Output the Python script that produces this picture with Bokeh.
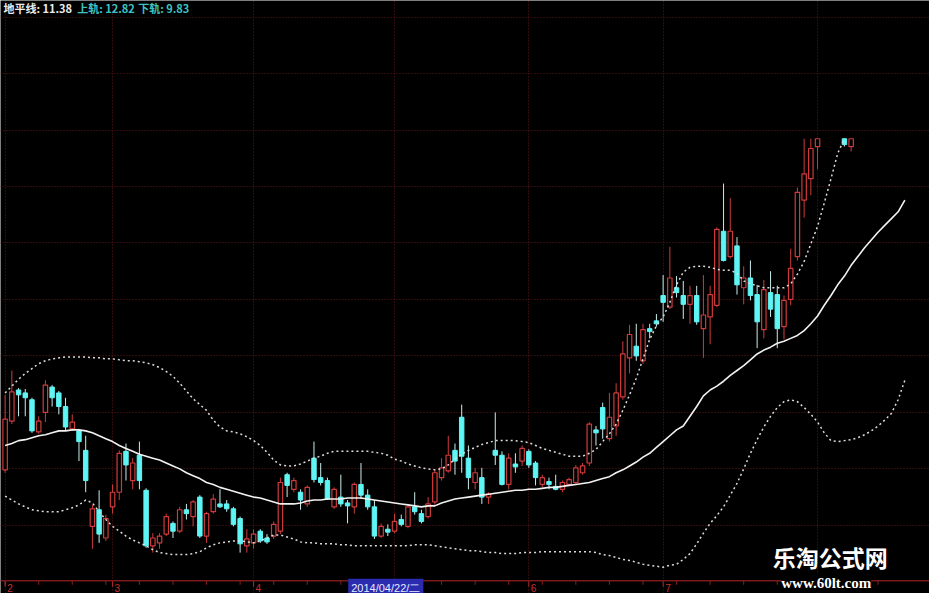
import numpy as np
from bokeh.plotting import figure
from bokeh.models import Range1d, FixedTicker, Label, ColumnDataSource, Span
from bokeh.embed import file_html
from bokeh.resources import INLINE
from bokeh.core.properties import value

# ---------------- data (bar index 0 = 2014-02-07) ----------------
opens = [
    8.61, 9.11, 9.43, 9.40, 9.33, 9.00, 9.20, 9.46, 9.40, 9.26,
    9.03, 9.01, 8.81, 8.03, 8.20, 7.91, 8.23, 8.38, 8.80, 8.50,
    8.76, 8.40, 7.83, 7.86, 7.95, 8.06, 7.98, 8.20, 8.13, 8.33,
    7.93, 8.18, 8.26, 8.26, 8.21, 8.11, 7.83, 7.86, 7.98, 7.91,
    7.93, 7.98, 8.56, 8.41, 8.38, 8.26, 8.73, 8.53, 8.50, 8.23,
    8.33, 8.27, 8.23, 8.46, 8.35, 8.23, 7.93, 8.00, 7.98, 8.10,
    8.03, 8.23, 8.16, 8.13, 8.28, 8.53, 8.60, 8.81, 9.15, 8.73,
    8.48, 8.53, 8.33, 8.81, 8.76, 8.46, 8.67, 8.70, 8.80, 8.68,
    8.46, 8.49, 8.44, 8.41, 8.46, 8.48, 8.58, 8.68, 9.02, 9.25,
    8.93, 9.06, 9.36, 9.76, 9.88, 9.73, 10.06, 10.14, 10.40, 10.28,
    10.48, 10.40, 10.31, 10.40, 10.06, 10.18, 10.30, 11.06, 10.80, 10.91,
    10.48, 10.58, 10.41, 10.05, 10.43, 10.41, 10.08, 10.36, 10.80, 11.38,
    11.60, 11.93, None, None, None, 12.15, 11.93, None, None, None,
    None, None, None, None, None,
]
highs = [
    9.38, 9.63, 9.45, 9.44, 9.35, 9.16, 9.53, 9.48, 9.42, 9.35,
    9.18, 9.03, 8.96, 8.25, 8.40, 8.15, 8.46, 8.81, 8.88, 8.73,
    8.90, 8.42, 7.96, 7.96, 8.16, 8.08, 8.23, 8.26, 8.30, 8.35,
    8.18, 8.36, 8.41, 8.30, 8.23, 8.13, 8.00, 8.00, 8.00, 7.95,
    8.08, 8.53, 8.58, 8.53, 8.41, 8.45, 8.90, 8.68, 8.53, 8.43,
    8.56, 8.30, 8.48, 8.68, 8.41, 8.30, 8.06, 8.05, 8.16, 8.15,
    8.25, 8.38, 8.20, 8.33, 8.61, 8.73, 8.96, 8.88, 9.28, 8.86,
    8.63, 8.63, 8.38, 9.20, 8.80, 8.78, 8.78, 8.86, 8.82, 8.70,
    8.56, 8.53, 8.56, 8.50, 8.53, 8.66, 8.68, 9.10, 9.06, 9.30,
    9.40, 9.50, 9.93, 10.10, 10.11, 10.11, 10.11, 10.21, 10.61, 10.90,
    10.60, 10.55, 10.50, 10.50, 10.61, 10.50, 11.10, 11.55, 11.40, 11.00,
    10.70, 10.76, 10.51, 10.56, 10.65, 10.50, 10.40, 10.88, 11.51, 12.23,
    12.25, 12.30, None, None, None, 12.25, 12.20, None, None, None,
    None, None, None, None, None,
]
lows = [
    8.58, 9.08, 9.16, 9.16, 8.99, 8.98, 9.10, 9.26, 9.18, 9.01,
    9.01, 8.70, 8.38, 7.80, 7.86, 7.88, 8.16, 8.30, 8.50, 8.41,
    8.41, 7.81, 7.76, 7.80, 7.93, 7.91, 7.96, 8.10, 8.03, 7.91,
    7.86, 8.16, 8.22, 8.18, 8.03, 7.76, 7.76, 7.80, 7.86, 7.85,
    7.90, 7.95, 8.33, 8.38, 8.20, 8.23, 8.48, 8.45, 8.30, 8.21,
    8.23, 8.06, 8.16, 8.31, 8.20, 7.90, 7.91, 7.93, 7.96, 8.03,
    8.01, 8.15, 8.06, 8.11, 8.25, 8.50, 8.58, 8.56, 8.58, 8.41,
    8.41, 8.26, 8.26, 8.66, 8.45, 8.41, 8.58, 8.65, 8.63, 8.45,
    8.43, 8.41, 8.40, 8.38, 8.45, 8.46, 8.56, 8.65, 8.86, 8.93,
    8.90, 8.96, 9.33, 9.60, 9.73, 9.70, 9.96, 10.08, 10.13, 10.26,
    10.38, 10.16, 10.11, 10.10, 9.76, 9.90, 10.28, 10.75, 10.78, 10.41,
    10.31, 10.35, 9.86, 9.96, 10.18, 9.86, 9.95, 10.30, 10.76, 11.20,
    11.43, 11.70, None, None, None, 11.93, 11.88, None, None, None,
    None, None, None, None, None,
]
closes = [
    9.13, 9.41, 9.38, 9.35, 9.01, 9.11, 9.48, 9.35, 9.26, 9.05,
    9.10, 8.90, 8.50, 8.21, 7.95, 8.11, 8.38, 8.78, 8.66, 8.68,
    8.50, 7.83, 7.91, 7.93, 8.13, 7.98, 8.20, 8.16, 8.28, 7.93,
    8.16, 8.31, 8.23, 8.21, 8.05, 7.85, 7.90, 7.95, 7.88, 7.87,
    8.05, 8.48, 8.45, 8.50, 8.30, 8.43, 8.51, 8.48, 8.31, 8.41,
    8.26, 8.25, 8.46, 8.35, 8.23, 7.93, 8.03, 7.97, 8.08, 8.05,
    8.23, 8.18, 8.08, 8.26, 8.58, 8.63, 8.76, 8.70, 8.75, 8.53,
    8.58, 8.33, 8.36, 8.76, 8.46, 8.73, 8.65, 8.83, 8.66, 8.53,
    8.53, 8.47, 8.42, 8.48, 8.51, 8.63, 8.65, 9.08, 9.00, 9.03,
    9.15, 9.40, 9.80, 10.00, 9.78, 10.05, 10.04, 10.11, 10.33, 10.58,
    10.43, 10.31, 10.40, 10.13, 10.20, 10.41, 11.08, 10.76, 11.06, 10.51,
    10.58, 10.40, 10.13, 10.46, 10.26, 10.06, 10.35, 10.68, 11.46, 11.65,
    11.91, 12.15, None, None, None, 11.95, 12.08, None, None, None,
    None, None, None, None, None,
]
upper_band = [
    9.40, 9.47, 9.54, 9.60, 9.65, 9.70, 9.73, 9.75, 9.76, 9.77,
    9.77, 9.77, 9.77, 9.76, 9.76, 9.75, 9.75, 9.74, 9.73, 9.73,
    9.72, 9.71, 9.69, 9.66, 9.62, 9.57, 9.50, 9.42, 9.34, 9.28,
    9.22, 9.12, 9.05, 9.01, 9.00, 8.98, 8.95, 8.91, 8.86, 8.79,
    8.71, 8.66, 8.65, 8.65, 8.67, 8.70, 8.73, 8.75, 8.78, 8.80,
    8.80, 8.80, 8.80, 8.80, 8.80, 8.79, 8.78, 8.76, 8.72, 8.70,
    8.67, 8.65, 8.63, 8.62, 8.61, 8.62, 8.66, 8.72, 8.77, 8.81,
    8.84, 8.87, 8.89, 8.91, 8.91, 8.91, 8.91, 8.90, 8.89, 8.86,
    8.83, 8.81, 8.79, 8.77, 8.75, 8.75, 8.75, 8.78, 8.82, 8.90,
    8.98, 9.08, 9.22, 9.38, 9.55, 9.75, 9.95, 10.09, 10.18, 10.33,
    10.51, 10.64, 10.69, 10.70, 10.70, 10.69, 10.67, 10.66, 10.66, 10.63,
    10.55, 10.52, 10.50, 10.48, 10.48, 10.48, 10.48, 10.52, 10.62, 10.75,
    10.93, 11.11, 11.35, 11.60, 11.86, 12.01, None, None, None, None,
    None, None, None, None, None,
]
mid_band = [
    8.86, 8.88, 8.91, 8.92, 8.94, 8.96, 8.97, 8.99, 9.01, 9.01,
    9.02, 9.02, 9.01, 8.99, 8.96, 8.93, 8.90, 8.86, 8.83, 8.80,
    8.77, 8.75, 8.73, 8.71, 8.68, 8.65, 8.62, 8.58, 8.55, 8.52,
    8.48, 8.46, 8.43, 8.41, 8.39, 8.37, 8.35, 8.33, 8.32, 8.30,
    8.28, 8.26, 8.26, 8.26, 8.27, 8.29, 8.30, 8.30, 8.31, 8.31,
    8.31, 8.32, 8.32, 8.32, 8.31, 8.30, 8.29, 8.28, 8.27, 8.26,
    8.25, 8.24, 8.23, 8.24, 8.24, 8.27, 8.29, 8.31, 8.32, 8.33,
    8.34, 8.35, 8.36, 8.37, 8.38, 8.39, 8.40, 8.40, 8.41, 8.41,
    8.42, 8.43, 8.43, 8.44, 8.45, 8.46, 8.47, 8.48, 8.50, 8.52,
    8.54, 8.58, 8.61, 8.65, 8.69, 8.74, 8.78, 8.84, 8.90, 8.96,
    9.02, 9.06, 9.16, 9.26, 9.37, 9.43, 9.47, 9.52, 9.58, 9.63,
    9.68, 9.74, 9.80, 9.84, 9.87, 9.91, 9.93, 9.96, 9.99, 10.04,
    10.11, 10.19, 10.30, 10.40, 10.51, 10.60, 10.71, 10.80, 10.89, 10.97,
    11.05, 11.12, 11.19, 11.26, 11.38,
]
lower_band = [
    8.34, 8.30, 8.26, 8.23, 8.20, 8.19, 8.18, 8.18, 8.18, 8.20,
    8.22, 8.25, 8.30, 8.27, 8.18, 8.10, 8.03, 7.98, 7.93, 7.89,
    7.86, 7.83, 7.79, 7.76, 7.75, 7.74, 7.74, 7.74, 7.75, 7.77,
    7.81, 7.84, 7.86, 7.87, 7.88, 7.88, 7.87, 7.86, 7.88, 7.91,
    7.94, 7.94, 7.92, 7.90, 7.87, 7.86, 7.86, 7.85, 7.85, 7.85,
    7.84, 7.84, 7.83, 7.83, 7.83, 7.83, 7.83, 7.83, 7.83, 7.83,
    7.83, 7.84, 7.84, 7.84, 7.83, 7.82, 7.81, 7.80, 7.79, 7.78,
    7.78, 7.77, 7.76, 7.76, 7.75, 7.75, 7.75, 7.76, 7.76, 7.76,
    7.77, 7.77, 7.77, 7.77, 7.77, 7.77, 7.77, 7.77, 7.76, 7.74,
    7.73, 7.71, 7.69, 7.68, 7.66, 7.64, 7.63, 7.62, 7.61, 7.63,
    7.64, 7.69, 7.75, 7.85, 7.96, 8.06, 8.14, 8.23, 8.35, 8.47,
    8.62, 8.78, 8.92, 9.05, 9.16, 9.25, 9.31, 9.33, 9.31, 9.25,
    9.18, 9.10, 8.99, 8.91, 8.90, 8.91, 8.92, 8.94, 8.97, 9.01,
    9.06, 9.12, 9.19, 9.33, 9.53,
]
month_ticks = [0, 16, 37, 78, 98]
month_labels = ["2", "3", "4", "6", "7"]
month_grid = [0, 16, 37, 58, 78, 98, 121]
week_ticks = list(range(0, 135, 5))
price_grid = [13.26, 12.68, 12.10, 11.52, 10.94, 10.36, 9.78, 9.20, 8.62, 8.04]
legend_names = ["地平线", "上轨", "下轨"]
legend_values = ["11.38", "12.82", "9.83"]
cursor_date = "2014/04/22/二"
cursor_bar = 51
CAP = 12.01          # top of the visible candle area

# ---------------- layout helpers (reference pixels -> data) ----------------
X0, DXP = 4.7, 6.83
Y0, DYP = 13.43, 100.0
def dx(px):
    return (px - X0) / DXP
def dy(py):
    return Y0 - py / DYP

W, H = 929, 593
p = figure(width=W, height=H, output_backend="svg", toolbar_location=None,
           x_range=Range1d(dx(0), dx(945)), y_range=Range1d(dy(609), dy(0)),
           background_fill_color="black", border_fill_color="black",
           min_border_left=0, min_border_right=0, min_border_top=0, min_border_bottom=0)
p.outline_line_color = None
p.yaxis.visible = False
p.xaxis.visible = False

# grids
p.xgrid.ticker = FixedTicker(ticks=month_grid)
p.ygrid.ticker = FixedTicker(ticks=price_grid)
for g in (p.xgrid, p.ygrid):
    g.grid_line_color = "#5e1616"
    g.grid_line_dash = "1 2"
    g.grid_line_width = 1
p.xgrid.bounds = (dy(596), dy(0))

# date axis drawn inside the frame (so the cursor label and watermark are not clipped)
AXIS_Y = dy(596)
p.add_layout(Span(location=AXIS_Y, dimension="width", line_color="#7a1a1a", line_width=1.5))
wt = np.array(week_ticks, dtype=float)
p.segment(x0=wt, y0=np.full(len(wt), AXIS_Y), x1=wt, y1=np.full(len(wt), dy(600)),
          line_color="#8a2020", line_width=1)
mt = np.array(month_ticks, dtype=float)
p.segment(x0=mt, y0=np.full(len(mt), AXIS_Y), x1=mt, y1=np.full(len(mt), dy(602)),
          line_color="#b02a2a", line_width=1)
p.text(x=mt + 0.3, y=np.full(len(mt), dy(603)), text=month_labels,
       text_color="#c83232", text_font=value("Liberation Sans"), text_font_size="10px",
       text_baseline="middle", text_align="left")

# ---------------- candles ----------------
o = np.array(opens, dtype=float)
h = np.array(highs, dtype=float)
l = np.array(lows, dtype=float)
c = np.array(closes, dtype=float)
idx = np.arange(len(o))
bot = np.fmin(o, c)
top = np.minimum(np.fmax(o, c), CAP)
bot = np.where(top - bot < 0.03, top - 0.03, bot)
hi = np.minimum(h, CAP)
ok = ~np.isnan(o) & (np.fmin(o, c) < CAP)
up = ok & (c >= o)
dn = ok & (c < o)

src_up = ColumnDataSource(dict(x=idx[up], top=top[up], bot=bot[up], hi=hi[up], lo=l[up]))
src_dn = ColumnDataSource(dict(x=idx[dn], top=top[dn], bot=bot[dn], hi=hi[dn], lo=l[dn]))

RED = "#cf3b3b"
CYAN = "#5ff5f5"
p.segment(x0="x", y0="hi", x1="x", y1="lo", source=src_up, line_color=RED, line_width=1)
p.vbar(x="x", top="top", bottom="bot", width=0.66, source=src_up,
       fill_color="black", line_color=RED, line_width=1.2)
p.segment(x0="x", y0="hi", x1="x", y1="lo", source=src_dn, line_color="#c8eeee", line_width=1)
p.vbar(x="x", top="top", bottom="bot", width=0.66, source=src_dn,
       fill_color=CYAN, line_color=CYAN, line_width=1)

# ---------------- bands ----------------
ub = np.array(upper_band, dtype=float)
ub = np.where(ub > CAP + 1e-9, np.nan, ub)
bidx = np.arange(len(mid_band))
p.line(np.arange(len(ub)), ub, line_color="#dcdcdc", line_width=1.5, line_dash="2 3")
p.line(bidx, np.array(lower_band, dtype=float), line_color="#dcdcdc", line_width=1.5, line_dash="2 3")
p.line(bidx, np.array(mid_band, dtype=float), line_color="#f2f2f2", line_width=1.6)

# ---------------- texts ----------------
CJK = "Noto Sans CJK SC"
leg_x = [3, 78, 140]
leg_col = ["#ececec", "#3cc4c4", "#3cc4c4"]
for px, name, val, col in zip(leg_x, legend_names, legend_values, leg_col):
    p.add_layout(Label(x=dx(px), y=dy(8), text=f"{name}: {val}", text_color=col,
                       text_font=CJK, text_font_size="11px", text_font_style="bold",
                       text_baseline="middle", text_align="left"))

p.add_layout(Label(x=cursor_bar + 0.1, y=dy(603), text=cursor_date, text_color="#e4ecff",
                   background_fill_color="#2b2bb0", text_font="Liberation Sans",
                   text_font_size="11px", text_baseline="middle", text_align="left",
                   padding=3))

p.add_layout(Label(x=dx(844), y=dy(572), text="乐淘公式网", text_color="#ffffff",
                   text_font=CJK, text_font_size="23px", text_font_style="bold",
                   text_baseline="middle", text_align="center"))
p.add_layout(Label(x=dx(840), y=dy(598), text="www.60lt.com", text_color="#ffffff",
                   background_fill_color="black",
                   text_font="Liberation Serif", text_font_size="15px", text_font_style="bold",
                   text_baseline="middle", text_align="center"))

open("out.html", "w").write(file_html(p, INLINE))
